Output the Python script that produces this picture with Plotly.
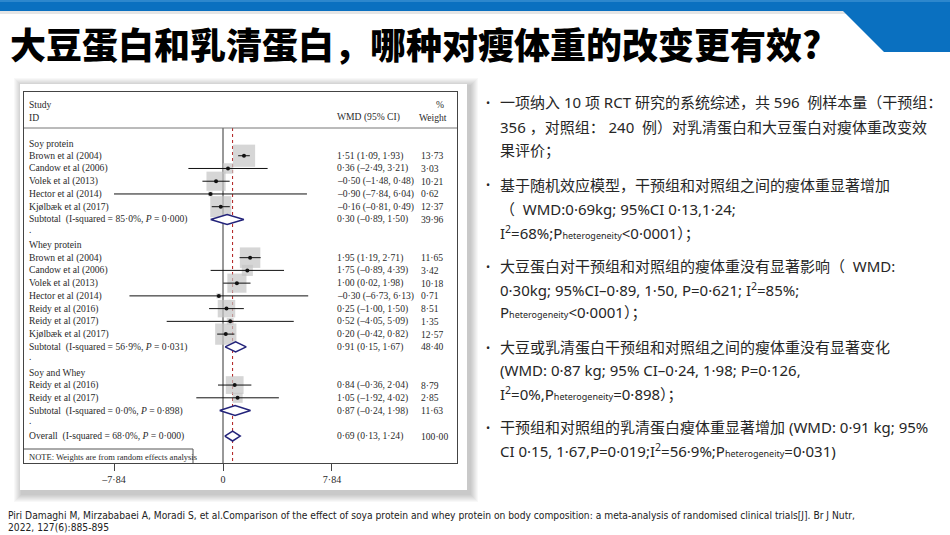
import plotly.graph_objects as go

W, H = 950, 535

# ---------------- data ----------------
group_names = ["Soy protein", "Whey protein", "Soy and Whey"]

soy_study = ["Brown et al (2004)", "Candow et al (2006)", "Volek et al (2013)",
             "Hector et al (2014)", "Kjølbæk et al (2017)"]
soy_wmd = [1.51, 0.36, -0.50, -0.90, -0.16]
soy_lo = [1.09, -2.49, -1.48, -7.84, -0.81]
soy_hi = [1.93, 3.21, 0.48, 6.04, 0.49]
soy_wt = [13.73, 3.03, 10.21, 0.62, 12.37]

whey_study = ["Brown et al (2004)", "Candow et al (2006)", "Volek et al (2013)",
              "Hector et al (2014)", "Reidy et al (2016)", "Reidy et al (2017)",
              "Kjølbæk et al (2017)"]
whey_wmd = [1.95, 1.75, 1.00, -0.30, 0.25, 0.52, 0.20]
whey_lo = [1.19, -0.89, 0.02, -6.73, -1.00, -4.05, -0.42]
whey_hi = [2.71, 4.39, 1.98, 6.13, 1.50, 5.09, 0.82]
whey_wt = [11.65, 3.42, 10.18, 0.71, 8.51, 1.35, 12.57]

both_study = ["Reidy et al (2016)", "Reidy et al (2017)"]
both_wmd = [0.84, 1.05]
both_lo = [-0.36, -1.92]
both_hi = [2.04, 4.02]
both_wt = [8.79, 2.85]

sub_wmd = [0.30, 0.91, 0.87]
sub_lo = [-0.89, 0.15, -0.24]
sub_hi = [1.50, 1.67, 1.98]
sub_wt = [39.96, 48.40, 11.63]
sub_i2 = [85.0, 56.9, 0.0]
sub_p = [0.000, 0.031, 0.898]

overall_wmd = 0.69
overall_lo = 0.13
overall_hi = 1.24
overall_wt = 100.00
overall_i2 = 68.0
overall_p = 0.000

tick_vals = [-7.84, 0, 7.84]

title_text = "大豆蛋白和乳清蛋白，哪种对瘦体重的改变更有效?"
citation = ["Piri Damaghi M, Mirzababaei A, Moradi S, et al.Comparison of the effect of soya protein and whey protein on body composition: a meta-analysis of randomised clinical trials[J]. Br J Nutr,",
            "2022, 127(6):885-895"]

PH = "P<span style='font-size:9px'>heterogeneity</span>"
bullets = [
    ["一项纳入 10 项 RCT 研究的系统综述，共 596 \u00a0例样本量（干预组：",
     "356 ，对照组： 240 \u00a0例）对乳清蛋白和大豆蛋白对瘦体重改变效",
     "果评价；"],
    ["基于随机效应模型，干预组和对照组之间的瘦体重显著增加",
     "（ \u00a0WMD:0·69kg; 95%CI 0·13,1·24;",
     "I<sup>2</sup>=68%;" + PH + "&lt;0·0001）；"],
    ["大豆蛋白对干预组和对照组的瘦体重没有显著影响（ \u00a0WMD:",
     "0·30kg; 95%CI–0·89, 1·50, P=0·621; I<sup>2</sup>=85%;",
     PH + "&lt;0·0001）；"],
    ["大豆或乳清蛋白干预组和对照组之间的瘦体重没有显著变化",
     "(WMD: 0·87 kg; 95% CI–0·24, 1·98; P=0·126,",
     "I<sup>2</sup>=0%," + PH + "=0·898）；"],
    ["干预组和对照组的乳清蛋白瘦体重显著增加 (WMD: 0·91 kg; 95%",
     "CI 0·15, 1·67,P=0·019;I<sup>2</sup>=56·9%;" + PH + "=0·031)"],
]

# ---------------- geometry helpers ----------------
def px(x):
    return x / W

def py(y):
    return 1 - y / H

ROW0 = 143.0      # pixel y of first row
ROWH = 12.74      # pixel height of a row
ZERO = 223.0      # pixel x of WMD = 0
UNIT = 13.9       # pixels per WMD unit
FL, FT, FR, FB = 24, 92, 457, 463   # forest frame

def rowof(ypx):
    return (ypx - ROW0) / ROWH

def fmt(v, d=2):
    s = f"{abs(v):.{d}f}".replace(".", "·")
    return ("–" if v < 0 else "") + s

SERIF = "Liberation Serif, Times New Roman, serif"
FS = 9.6
TXT = "#2a2a2a"
CJK = "Noto Sans CJK SC, Microsoft YaHei, sans-serif"
BODY = "Noto Sans, Noto Sans CJK SC, sans-serif"

fig = go.Figure()
annotations = []
shapes = []

def label(x_px, row, text, anchor="left", size=FS, color=TXT):
    annotations.append(dict(x=px(x_px), y=row, xref="paper", yref="y", text=text,
                            showarrow=False, xanchor=anchor, yanchor="middle",
                            font=dict(family=SERIF, size=size, color=color)))

# ---------------- build rows ----------------
studies = [soy_study, whey_study, both_study]
wmds = [soy_wmd, whey_wmd, both_wmd]
los = [soy_lo, whey_lo, both_lo]
his = [soy_hi, whey_hi, both_hi]
wts = [soy_wt, whey_wt, both_wt]

sq_x, sq_y, sq_s = [], [], []
ci_x, ci_y = [], []
dot_x, dot_y = [], []
diamonds = []

XL, XW, XP = 27, 335, 417

r = 0
for g in range(3):
    label(XL, r, group_names[g])
    r += 1
    for i in range(len(studies[g])):
        label(XL, r, studies[g][i])
        label(XW, r, f"{fmt(wmds[g][i])} ({fmt(los[g][i])}, {fmt(his[g][i])})")
        label(XP + 2, r, fmt(wts[g][i]))
        sq_x.append(wmds[g][i]); sq_y.append(r); sq_s.append(6.0 * wts[g][i] ** 0.5)
        ci_x += [los[g][i], his[g][i], None]; ci_y += [r, r, None]
        dot_x.append(wmds[g][i]); dot_y.append(r)
        r += 1
    label(XL, r, f"Subtotal \u00a0(I-squared = {fmt(sub_i2[g], 1)}%, <i>P</i> = {fmt(sub_p[g], 3)})")
    label(XW, r, f"{fmt(sub_wmd[g])} ({fmt(sub_lo[g])}, {fmt(sub_hi[g])})")
    label(XP + 2, r, fmt(sub_wt[g]))
    diamonds.append((sub_lo[g], sub_wmd[g], sub_hi[g], r))
    r += 1
    label(XL, r - 0.25, ".")
    r += 1

label(XL, r, f"Overall \u00a0(I-squared = {fmt(overall_i2, 1)}%, <i>P</i> = {fmt(overall_p, 3)})")
label(XW, r, f"{fmt(overall_wmd)} ({fmt(overall_lo)}, {fmt(overall_hi)})")
label(XP + 2, r, fmt(overall_wt))
diamonds.append((overall_lo, overall_wmd, overall_hi, r))

# header
label(XL, rowof(104), "Study")
label(XL, rowof(117), "ID")
label(XW, rowof(117), "WMD (95% CI)")
label(434, rowof(104), "%")
label(XP, rowof(117), "Weight")
label(XL, rowof(457), "NOTE: Weights are from random effects analysis", size=8.5)

y_top = rowof(FT)
y_bot = rowof(FB)
y_sep = rowof(128)

# reference lines
fig.add_trace(go.Scatter(x=[0, 0], y=[y_sep, y_bot], mode="lines",
                         line=dict(color="#333333", width=1), hoverinfo="skip"))
fig.add_trace(go.Scatter(x=[overall_wmd, overall_wmd], y=[y_sep, y_bot], mode="lines",
                         line=dict(color="#b01c1c", width=1, dash="3px,3px"), hoverinfo="skip"))
# weight boxes
fig.add_trace(go.Scatter(x=sq_x, y=sq_y, mode="markers",
                         marker=dict(symbol="square", size=sq_s, color="#c4c4c4",
                                     line=dict(width=0)), hoverinfo="skip"))
# CI lines
fig.add_trace(go.Scatter(x=ci_x, y=ci_y, mode="lines",
                         line=dict(color="#111111", width=1), hoverinfo="skip"))
# point estimates
fig.add_trace(go.Scatter(x=dot_x, y=dot_y, mode="markers",
                         marker=dict(symbol="circle", size=4, color="#111111"), hoverinfo="skip"))
# diamonds
for lo, est, hi, rr in diamonds:
    h = 0.39
    fig.add_trace(go.Scatter(x=[lo, est, hi, est, lo], y=[rr, rr - h, rr, rr + h, rr],
                             mode="lines", fill="toself", fillcolor="white",
                             line=dict(color="#23237a", width=1.5), hoverinfo="skip"))

# header separator and note box
shapes.append(dict(type="line", xref="paper", yref="y", x0=px(FL), x1=px(FR),
                   y0=y_sep, y1=y_sep, line=dict(color="#777777", width=1)))
shapes.append(dict(type="line", xref="paper", yref="y", x0=px(FL), x1=px(193),
                   y0=rowof(449), y1=rowof(449), line=dict(color="#555555", width=1)))
shapes.append(dict(type="line", xref="paper", yref="y", x0=px(193), x1=px(193),
                   y0=rowof(449), y1=y_bot, line=dict(color="#555555", width=1)))

# ---------------- slide decorations ----------------
# card shadow
for k in range(8, 0, -1):
    shapes.append(dict(type="rect", xref="paper", yref="paper", layer="below",
                       x0=px(20 - k + 2), x1=px(467 + k + 3), y0=py(84 - k + 2), y1=py(490 + k + 4),
                       fillcolor="rgba(0,0,0,0.028)", line=dict(width=0)))
shapes.append(dict(type="rect", xref="paper", yref="paper", layer="below",
                   x0=px(20), x1=px(467), y0=py(84), y1=py(490),
                   fillcolor="white", line=dict(width=0)))
# top blue banner
shapes.append(dict(type="rect", xref="paper", yref="paper", layer="below",
                   x0=0, x1=1, y0=py(14), y1=py(11),
                   fillcolor="rgba(0,0,0,0.10)", line=dict(width=0)))
shapes.append(dict(type="path", xref="paper", yref="paper", layer="below",
                   path=f"M 0 {py(0)} L 1 {py(0)} L 1 {py(52)} L {px(884)} {py(52)} "
                        f"L {px(843)} {py(11)} L 0 {py(11)} Z",
                   fillcolor="#0a70c0", line=dict(width=0)))
shapes.append(dict(type="line", xref="paper", yref="paper", layer="below",
                   x0=0, x1=1, y0=py(1), y1=py(1), line=dict(color="#3a8fd2", width=1.5)))

# title
annotations.append(dict(x=px(8), y=py(43), xref="paper", yref="paper", text=title_text,
                        showarrow=False, xanchor="left", yanchor="middle",
                        font=dict(family=CJK, size=36, color="#000000", weight=900)))

# right-hand bullet text
line_y = [[102, 127, 150], [185, 209, 232], [266, 289, 312], [347, 370, 393], [427, 450]]
for b, lines in enumerate(bullets):
    annotations.append(dict(x=px(484), y=py(line_y[b][0]), xref="paper", yref="paper",
                            text="•", showarrow=False, xanchor="left", yanchor="middle",
                            font=dict(family=BODY, size=11, color="#262626")))
    for j, t in enumerate(lines):
        annotations.append(dict(x=px(498), y=py(line_y[b][j]), xref="paper", yref="paper",
                                text=t, showarrow=False, xanchor="left", yanchor="middle",
                                font=dict(family=BODY, size=15, color="#262626")))

# citation
for j, t in enumerate(citation):
    annotations.append(dict(x=px(6), y=py(515 + 12 * j), xref="paper", yref="paper",
                            text=t, showarrow=False, xanchor="left", yanchor="middle",
                            font=dict(family="DejaVu Sans Condensed, Liberation Sans Narrow, sans-serif",
                                      size=10.2, color="#222222")))

fig.update_layout(
    width=W, height=H, margin=dict(l=0, r=0, t=0, b=0),
    paper_bgcolor="white", plot_bgcolor="rgba(0,0,0,0)",
    showlegend=False, annotations=annotations, shapes=shapes,
    xaxis=dict(domain=[px(FL), px(FR)], range=[(FL - ZERO) / UNIT, (FR - ZERO) / UNIT],
               showgrid=False, zeroline=False, showline=True, mirror=True,
               linecolor="#444444", linewidth=1, ticks="outside", ticklen=7,
               tickcolor="#444444", tickvals=tick_vals,
               ticktext=[fmt(v) if v != 0 else "0" for v in tick_vals],
               tickfont=dict(family=SERIF, size=10, color=TXT)),
    yaxis=dict(domain=[py(FB), py(FT)], range=[y_bot, y_top],
               showgrid=False, zeroline=False, showline=True, mirror=True,
               linecolor="#444444", linewidth=1, showticklabels=False, ticks=""),
)

fig.write_html("out.html")
